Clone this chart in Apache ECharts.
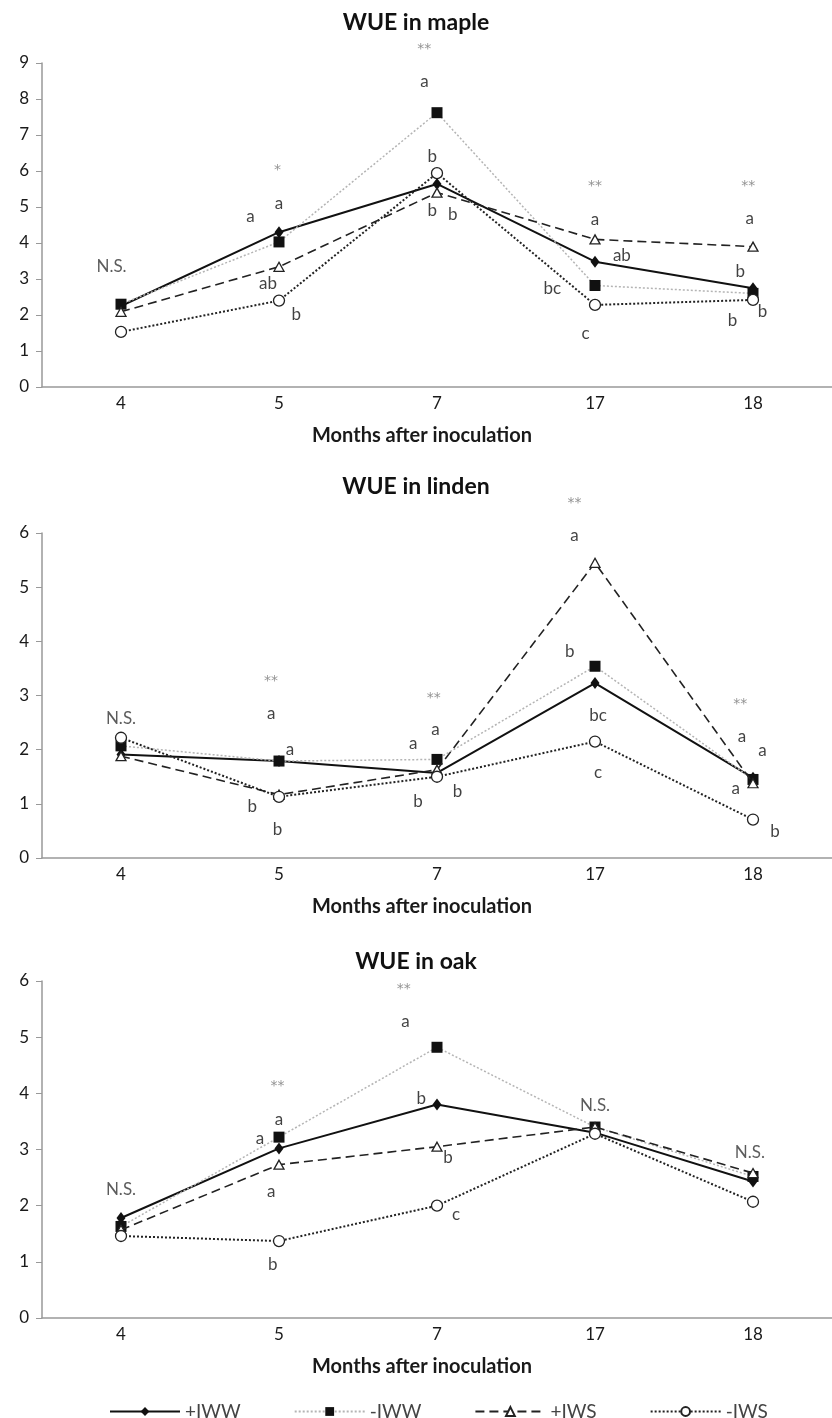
<!DOCTYPE html>
<html><head><meta charset="utf-8">
<script src="https://cdn.jsdelivr.net/npm/echarts@6/dist/echarts.min.js"></script>
<style>html,body{margin:0;padding:0;background:#fff}#c{width:832px;height:1418px}</style>
</head><body><div id="c"></div>
<script>
// ---- data ----
const months = ['4', '5', '7', '17', '18'];
const seriesNames = ['+IWW', '-IWW', '+IWS', '-IWS'];
const panelTitles = ['WUE in maple', 'WUE in linden', 'WUE in oak'];
const xAxisTitle = 'Months after inoculation';
const yMaxValues = [9, 6, 6];

// maple
const maplePlusIWW  = [2.25, 4.30, 5.64, 3.48, 2.74];
const mapleMinusIWW = [2.30, 4.03, 7.62, 2.82, 2.60];
const maplePlusIWS  = [2.09, 3.34, 5.40, 4.10, 3.90];
const mapleMinusIWS = [1.53, 2.40, 5.94, 2.28, 2.42];
// linden
const lindenPlusIWW  = [1.91, 1.79, 1.57, 3.23, 1.48];
const lindenMinusIWW = [2.07, 1.79, 1.82, 3.54, 1.45];
const lindenPlusIWS  = [1.88, 1.17, 1.63, 5.45, 1.38];
const lindenMinusIWS = [2.22, 1.13, 1.50, 2.15, 0.71];
// oak
const oakPlusIWW  = [1.78, 3.02, 3.80, 3.30, 2.43];
const oakMinusIWW = [1.63, 3.22, 4.82, 3.40, 2.52];
const oakPlusIWS  = [1.57, 2.73, 3.05, 3.40, 2.58];
const oakMinusIWS = [1.46, 1.37, 2.00, 3.28, 2.07];

// significance annotations: [category position, value, text]
const mapleNotes = [
  [-0.06, 3.34, 'N.S.'],
  [0.99, 6.03, '*'], [1.0, 5.1, 'a'], [0.82, 4.73, 'a'], [0.93, 2.88, 'ab'], [1.11, 2.02, 'b'],
  [1.92, 9.37, '**'], [1.92, 8.48, 'a'], [1.97, 6.41, 'b'], [1.97, 4.91, 'b'], [2.1, 4.78, 'b'],
  [3.0, 5.57, '**'], [3.0, 4.64, 'a'], [3.17, 3.66, 'ab'], [2.73, 2.74, 'bc'], [2.94, 1.48, 'c'],
  [3.97, 5.57, '**'], [3.98, 4.68, 'a'], [3.92, 3.2, 'b'], [3.87, 1.86, 'b'], [4.06, 2.09, 'b']
];
const lindenNotes = [
  [0.0, 2.58, 'N.S.'],
  [0.95, 3.26, '**'], [0.95, 2.66, 'a'], [1.07, 2.01, 'a'], [0.83, 0.95, 'b'], [0.99, 0.52, 'b'],
  [1.98, 2.95, '**'], [1.99, 2.37, 'a'], [1.85, 2.12, 'a'], [1.88, 1.05, 'b'], [2.13, 1.23, 'b'],
  [2.87, 6.55, '**'], [2.87, 5.95, 'a'], [2.84, 3.82, 'b'], [3.02, 2.63, 'bc'], [3.02, 1.58, 'c'],
  [3.92, 2.83, '**'], [3.93, 2.25, 'a'], [4.06, 1.99, 'a'], [3.89, 1.29, 'a'], [4.14, 0.49, 'b']
];
const oakNotes = [
  [0.0, 2.28, 'N.S.'],
  [0.99, 4.13, '**'], [1.0, 3.54, 'a'], [0.88, 3.2, 'a'], [0.95, 2.25, 'a'], [0.96, 0.95, 'b'],
  [1.79, 5.86, '**'], [1.8, 5.27, 'a'], [1.9, 3.91, 'b'], [2.07, 2.85, 'b'], [2.12, 1.84, 'c'],
  [3.0, 3.79, 'N.S.'],
  [3.98, 2.95, 'N.S.']
];

const panelData = [
  [maplePlusIWW, mapleMinusIWW, maplePlusIWS, mapleMinusIWS],
  [lindenPlusIWW, lindenMinusIWW, lindenPlusIWS, lindenMinusIWS],
  [oakPlusIWW, oakMinusIWW, oakPlusIWS, oakMinusIWS]
];
const panelNotes = [mapleNotes, lindenNotes, oakNotes];

// ---- layout / style ----
const FONT = 'Lato';
const gridTops = [63, 533, 981];
const gridHeights = [324, 325, 337];
const titleTops = [11, 475, 950];

const seriesStyles = [
  {symbol: 'diamond', symbolSize: [9, 12], lineStyle: {color: '#111', width: 2, type: 'solid'},
   itemStyle: {color: '#111'}},
  {symbol: 'rect', symbolSize: 11, lineStyle: {color: '#b4b4b4', width: 1.5, type: [2, 2]},
   itemStyle: {color: '#111'}},
  {symbol: 'triangle', symbolSize: [10, 9], lineStyle: {color: '#222', width: 1.6, type: [9, 5]},
   itemStyle: {color: '#fff', borderColor: '#222', borderWidth: 1.3}},
  {symbol: 'circle', symbolSize: 11, lineStyle: {color: '#222', width: 2, type: [2, 2]},
   itemStyle: {color: '#fff', borderColor: '#222', borderWidth: 1.3}}
];

const grids = [], xAxes = [], yAxes = [], titles = [], series = [];
for (let p = 0; p < 3; p++) {
  grids.push({left: 42, width: 800, top: gridTops[p], height: gridHeights[p], containLabel: false});
  titles.push({text: panelTitles[p], left: 'center', top: titleTops[p], padding: 0,
    textStyle: {fontFamily: FONT, fontSize: 23, fontWeight: 'bold', color: '#111'}});
  xAxes.push({type: 'category', gridIndex: p, data: months, boundaryGap: true,
    axisLine: {onZero: false, lineStyle: {color: '#999', width: 1.5}}, axisTick: {show: false},
    axisLabel: {fontFamily: FONT, fontSize: 17, color: '#1a1a1a', margin: 8},
    name: xAxisTitle, nameLocation: 'middle', nameGap: 39,
    nameTextStyle: {fontFamily: FONT, fontSize: 20, fontWeight: 'bold', color: '#1a1a1a', padding: [0, 30, 0, 0]}});
  yAxes.push({type: 'value', gridIndex: p, min: 0, max: yMaxValues[p], interval: 1,
    axisLine: {show: true, onZero: false, lineStyle: {color: '#999', width: 1.5}},
    axisTick: {show: true, length: 6, lineStyle: {color: '#999'}},
    splitLine: {show: false},
    axisLabel: {fontFamily: FONT, fontSize: 17, color: '#1a1a1a', margin: 13}});
}
for (let p = 0; p < 3; p++) {
  xAxes.push({type: 'value', gridIndex: p, min: -0.5, max: 4.5, show: false,
    axisLine: {onZero: false}});
}
for (let p = 0; p < 3; p++) {
  for (let s = 0; s < 4; s++) {
    const st = seriesStyles[s];
    series.push({type: 'line', name: seriesNames[s], xAxisIndex: p, yAxisIndex: p,
      data: panelData[p][s], symbol: st.symbol, symbolSize: st.symbolSize, showSymbol: true,
      lineStyle: st.lineStyle, itemStyle: st.itemStyle, z: 2 + s, animation: false,
      emphasis: {disabled: true}});
  }
  series.push({type: 'scatter', xAxisIndex: 3 + p, yAxisIndex: p, symbolSize: 1, clip: false,
    silent: true, z: 20, itemStyle: {color: 'transparent'}, animation: false,
    label: {show: true, position: 'inside', fontFamily: FONT, fontSize: 17, color: '#111',
      formatter: (q) => q.name},
    data: panelNotes[p].map(n => {
      const star = n[2].indexOf('*') >= 0;
      return {value: [n[0], n[1]], name: n[2],
        label: star ? {color: '#777', fontSize: 14, fontFamily: 'DejaVu Sans'} :
          (n[2] === 'N.S.' ? {color: '#333'} : {})};
    })});
}

const chart = echarts.init(document.getElementById('c'), null, {renderer: 'canvas'});
chart.setOption({
  backgroundColor: '#fff',
  animation: false,
  title: titles,
  grid: grids,
  xAxis: xAxes,
  yAxis: yAxes,
  legend: {data: seriesNames, left: 104, top: 1397, itemWidth: 70, itemHeight: 11, itemGap: 53,
    textStyle: {fontFamily: FONT, fontSize: 19, color: '#444'}},
  series: series
});
</script></body></html>
